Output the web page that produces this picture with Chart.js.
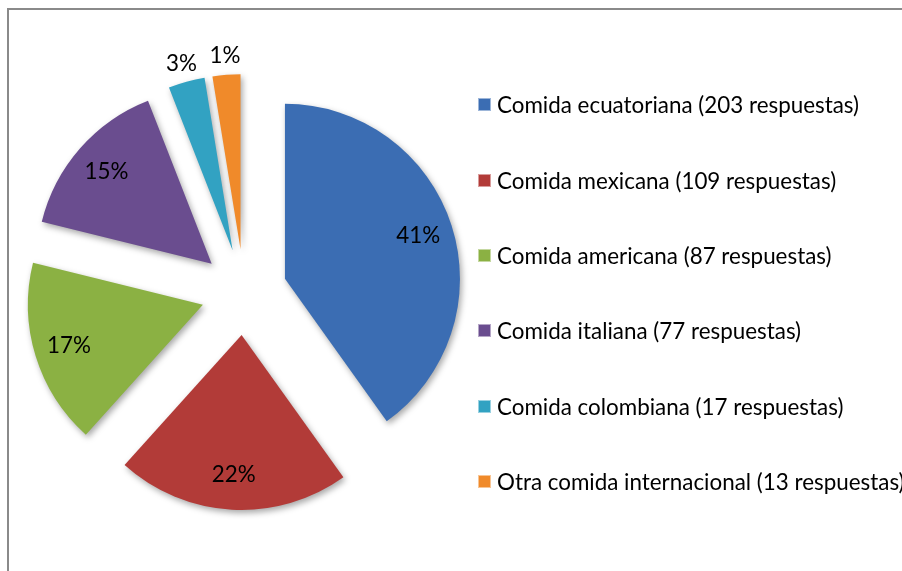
<!DOCTYPE html>
<html lang="es">
<head>
    <meta charset="UTF-8">
    <title>Comida preferida</title>
    <script src="https://cdn.jsdelivr.net/npm/chart.js"></script>
    <style>
        body {
            margin: 0;
            width: 902px;
            height: 571px;
            overflow: hidden;
            background: white;
            font-family: Lato, "Open Sans", sans-serif;
        }
        .frame {
            position: absolute;
            left: 7px;
            top: 8px;
            width: 1000px;
            height: 1000px;
            border-left: 2px solid #8a8a8a;
            border-top: 2px solid #8a8a8a;
        }
        #pie-wrap {
            position: absolute;
            left: 0;
            top: 0;
            width: 490px;
            height: 571px;
        }
        #legend {
            position: absolute;
            left: 478px;
            top: 67px;
        }
        .row {
            height: 75.4px;
            display: flex;
            align-items: center;
            white-space: nowrap;
            font-size: 22.4px;
            color: #000;
        }
        .box {
            width: 13px;
            height: 13px;
            margin-right: 6px;
            box-sizing: border-box;
        }
    </style>
</head>
<body>
    <div class="frame"></div>
    <div id="pie-wrap"><canvas id="pie"></canvas></div>
    <div id="legend"></div>

    <script>
        // datos
        const categorias = [
            'Comida ecuatoriana (203 respuestas)',
            'Comida mexicana (109 respuestas)',
            'Comida americana (87 respuestas)',
            'Comida italiana (77 respuestas)',
            'Comida colombiana (17 respuestas)',
            'Otra comida internacional (13 respuestas)'
        ];
        const respuestas = [203, 109, 87, 77, 17, 13];
        const etiquetas = ['41%', '22%', '17%', '15%', '3%', '1%'];
        const colores = ['#3b6db3', '#b23b38', '#8bb143', '#6a4d8f', '#32a2c2', '#f08a2a'];

        const EXPLODE = 43;

        // separa cada porcion del centro y agrega sombra
        const explodePlugin = {
            id: 'explode',
            beforeDatasetDraw(chart, args) {
                const ctx = chart.ctx;
                args.meta.data.forEach(arc => {
                    const mid = (arc.startAngle + arc.endAngle) / 2;
                    ctx.save();
                    ctx.translate(Math.cos(mid) * EXPLODE, Math.sin(mid) * EXPLODE);
                    ctx.shadowColor = 'rgba(0,0,0,0.35)';
                    ctx.shadowBlur = 6;
                    ctx.shadowOffsetX = 2;
                    ctx.shadowOffsetY = 3;
                    arc.draw(ctx);
                    ctx.restore();
                });
                return false;
            },
            afterDatasetsDraw(chart) {
                const ctx = chart.ctx;
                const meta = chart.getDatasetMeta(0);
                const total = respuestas.reduce((a, b) => a + b, 0);
                ctx.save();
                ctx.font = '22.4px Lato, "Open Sans", sans-serif';
                ctx.fillStyle = '#000';
                ctx.textAlign = 'center';
                ctx.textBaseline = 'middle';
                meta.data.forEach((arc, i) => {
                    const mid = (arc.startAngle + arc.endAngle) / 2;
                    const cx = arc.x + Math.cos(mid) * EXPLODE;
                    const cy = arc.y + Math.sin(mid) * EXPLODE;
                    const d = respuestas[i] / total < 0.05 ? arc.outerRadius + 19 : arc.outerRadius * 0.8;
                    ctx.fillText(etiquetas[i], cx + Math.cos(mid) * d, cy + Math.sin(mid) * d);
                });
                ctx.restore();
            }
        };

        const ctx = document.getElementById('pie').getContext('2d');
        new Chart(ctx, {
            type: 'pie',
            data: {
                labels: categorias,
                datasets: [{
                    data: respuestas,
                    backgroundColor: colores,
                    borderWidth: 0
                }]
            },
            options: {
                responsive: true,
                maintainAspectRatio: false,
                animation: false,
                radius: 175,
                layout: { padding: { top: 13, right: 2 } },
                plugins: {
                    legend: { display: false },
                    tooltip: { enabled: false }
                }
            },
            plugins: [explodePlugin]
        });

        // leyenda a la derecha
        const legend = document.getElementById('legend');
        categorias.forEach((c, i) => {
            const row = document.createElement('div');
            row.className = 'row';
            const box = document.createElement('span');
            box.className = 'box';
            box.style.background = colores[i];
            box.style.border = '1px solid rgba(255,255,255,0.5)';
            row.appendChild(box);
            row.appendChild(document.createTextNode(c));
            legend.appendChild(row);
        });
    </script>
</body>
</html>
